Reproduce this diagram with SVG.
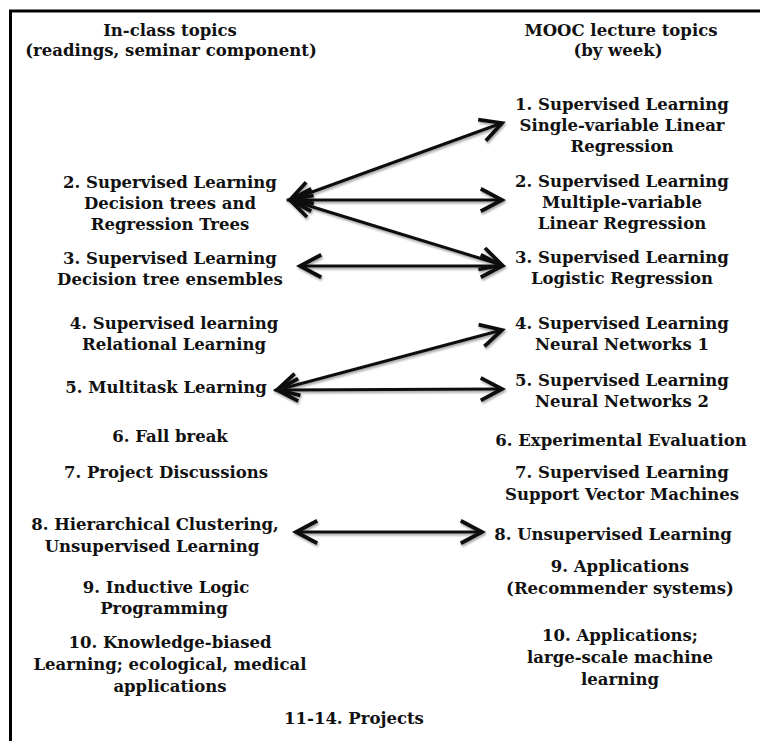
<svg xmlns="http://www.w3.org/2000/svg" width="760" height="741" viewBox="0 0 760 741">
<defs>
<style>
text{font-family:"DejaVu Serif","Liberation Serif",serif;font-weight:bold;font-size:16.5px;fill:#111;text-anchor:middle}
.conn{stroke:#111;stroke-width:3;fill:none;marker-start:url(#head);marker-end:url(#head)}
</style>
<marker id="head" markerUnits="userSpaceOnUse" markerWidth="30" markerHeight="30" refX="0" refY="0" viewBox="-20 -12 24 24" orient="auto-start-reverse" overflow="visible">
<path d="M-17,-9 L0,0 L-17,9" fill="none" stroke="#111" stroke-width="3" stroke-linejoin="miter"/>
</marker>
<filter id="sh" x="-5%" y="-20%" width="110%" height="140%">
<feDropShadow dx="1" dy="2" stdDeviation="1.2" flood-color="#000" flood-opacity="0.35"/>
</filter>
</defs>
<rect width="760" height="741" fill="#fff"/>
<path d="M10.5,741 V11 H760" fill="none" stroke="#000" stroke-width="3"/>
<g id="hdr-left"><text x="170" y="36">In-class topics</text><text x="171" y="56">(readings, seminar component)</text></g>
<g id="hdr-right"><text x="621" y="36">MOOC lecture topics</text><text x="618" y="56">(by week)</text></g>
<g id="L2"><text x="170" y="188">2. Supervised Learning</text><text x="170" y="209">Decision trees and</text><text x="170" y="230">Regression Trees</text></g>
<g id="L3"><text x="170" y="264">3. Supervised Learning</text><text x="170" y="285">Decision tree ensembles</text></g>
<g id="L4"><text x="174" y="329">4. Supervised learning</text><text x="174" y="350">Relational Learning</text></g>
<g id="L5"><text x="166" y="393">5. Multitask Learning</text></g>
<g id="L6"><text x="170" y="442">6. Fall break</text></g>
<g id="L7"><text x="166" y="478">7. Project Discussions</text></g>
<g id="L8"><text x="155" y="530">8. Hierarchical Clustering,</text><text x="152" y="552">Unsupervised Learning</text></g>
<g id="L9"><text x="166" y="593">9. Inductive Logic</text><text x="164" y="614">Programming</text></g>
<g id="L10"><text x="170" y="648">10. Knowledge-biased</text><text x="170" y="670">Learning; ecological, medical</text><text x="170" y="692">applications</text></g>
<g id="R1"><text x="622" y="110">1. Supervised Learning</text><text x="622" y="131">Single-variable Linear</text><text x="622" y="152">Regression</text></g>
<g id="R2"><text x="622" y="187">2. Supervised Learning</text><text x="622" y="208">Multiple-variable</text><text x="622" y="229">Linear Regression</text></g>
<g id="R3"><text x="622" y="263">3. Supervised Learning</text><text x="622" y="284">Logistic Regression</text></g>
<g id="R4"><text x="622" y="329">4. Supervised Learning</text><text x="622" y="350">Neural Networks 1</text></g>
<g id="R5"><text x="622" y="386">5. Supervised Learning</text><text x="622" y="407">Neural Networks 2</text></g>
<g id="R6"><text x="621" y="446">6. Experimental Evaluation</text></g>
<g id="R7"><text x="622" y="478">7. Supervised Learning</text><text x="622" y="500">Support Vector Machines</text></g>
<g id="R8"><text x="613" y="540">8. Unsupervised Learning</text></g>
<g id="R9"><text x="620" y="572">9. Applications</text><text x="620" y="594">(Recommender systems)</text></g>
<g id="R10"><text x="620" y="641">10. Applications;</text><text x="620" y="663">large-scale machine</text><text x="620" y="685">learning</text></g>
<g id="P"><text x="354" y="724">11-14. Projects</text></g>
<g id="connectors" filter="url(#sh)">
<line class="conn" x1="290" y1="200" x2="502" y2="123"/>
<line class="conn" x1="290" y1="200" x2="502" y2="200"/>
<line class="conn" x1="290" y1="200" x2="502" y2="265"/>
<line class="conn" x1="300" y1="266" x2="502" y2="266"/>
<line class="conn" x1="277" y1="390" x2="502" y2="330"/>
<line class="conn" x1="277" y1="390" x2="502" y2="389"/>
<line class="conn" x1="296" y1="532" x2="482" y2="532"/>
</g>
</svg>
